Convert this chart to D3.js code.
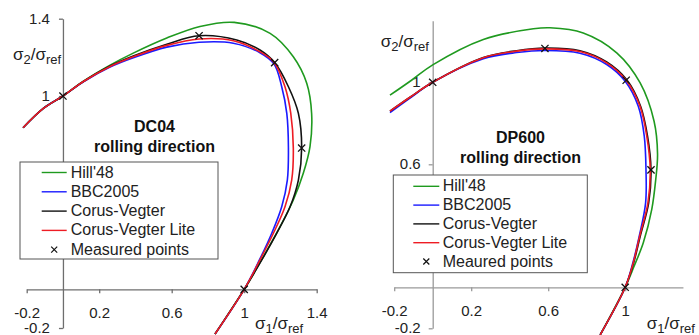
<!DOCTYPE html>
<html>
<head>
<meta charset="utf-8">
<script src="https://cdn.jsdelivr.net/npm/d3@7"></script>
<style>
  html, body { margin: 0; padding: 0; background: #fff; }
  svg { display: block; }
</style>
</head>
<body>
<svg id="chart" width="699" height="335"></svg>
<script>
// ---- Yield loci, normalised stresses [sigma1/sigma_ref, sigma2/sigma_ref] ----

// DC04, rolling direction
const dc04Hill48 = [[-0.22,0.836],[-0.108,0.936],[0,1],[0.113,1.077],[0.26,1.16],[0.388,1.222],[0.573,1.3],[0.756,1.36],[0.945,1.381],[1.143,1.324],[1.271,1.203],[1.345,1.066],[1.372,0.91],[1.363,0.738],[1.326,0.6],[1.271,0.462],[1.198,0.324],[1.106,0.169],[1,0],[0.839,-0.231]];
const dc04BBC2005 = [[-0.22,0.836],[-0.108,0.936],[0,1],[0.113,1.074],[0.26,1.15],[0.388,1.198],[0.573,1.253],[0.751,1.278],[0.94,1.273],[1.087,1.224],[1.165,1.165],[1.207,1.048],[1.235,0.91],[1.244,0.731],[1.238,0.565],[1.207,0.427],[1.152,0.29],[1.084,0.152],[1,0],[0.839,-0.231]];
const dc04CorusVegter = [[-0.22,0.836],[-0.108,0.936],[0,1],[0.113,1.075],[0.26,1.155],[0.388,1.207],[0.573,1.268],[0.751,1.312],[0.959,1.29],[1.087,1.238],[1.168,1.173],[1.244,1.048],[1.299,0.91],[1.317,0.731],[1.299,0.565],[1.253,0.427],[1.179,0.29],[1.097,0.152],[1,0],[0.839,-0.231]];
const dc04CorusVegterLite = [[-0.22,0.836],[-0.108,0.936],[0,1],[0.113,1.075],[0.26,1.153],[0.388,1.203],[0.573,1.262],[0.751,1.295],[0.94,1.286],[1.087,1.229],[1.165,1.174],[1.225,1.048],[1.257,0.91],[1.271,0.731],[1.262,0.565],[1.225,0.427],[1.161,0.29],[1.087,0.152],[1,0],[0.839,-0.231]];
const dc04Measured = [[0,1],[0.751,1.312],[1.168,1.173],[1.317,0.731],[1,0]];

// DP600, rolling direction
const dp600Hill48 = [[-0.222,0.937],[-0.11,1.01],[0,1.085],[0.263,1.209],[0.523,1.261],[0.609,1.266],[0.782,1.241],[0.956,1.144],[1.077,0.998],[1.15,0.81],[1.168,0.65],[1.158,0.52],[1.138,0.38],[1.094,0.217],[1.045,0.1],[1,0],[0.87,-0.232]];
const dp600BBC2005 = [[-0.222,0.852],[-0.118,0.923],[0,1],[0.263,1.115],[0.436,1.145],[0.583,1.155],[0.765,1.142],[0.904,1.087],[1,1.005],[1.068,0.883],[1.099,0.737],[1.108,0.573],[1.106,0.412],[1.073,0.249],[1.04,0.12],[1,0],[0.87,-0.232]];
const dp600CorusVegter = [[-0.222,0.859],[-0.118,0.927],[0,1],[0.263,1.121],[0.436,1.154],[0.583,1.167],[0.765,1.154],[0.904,1.099],[1.008,1.012],[1.08,0.883],[1.116,0.737],[1.134,0.573],[1.122,0.412],[1.078,0.249],[1.044,0.12],[1,0],[0.87,-0.232]];
const dp600CorusVegterLite = [[-0.222,0.859],[-0.118,0.927],[0,1],[0.263,1.12],[0.436,1.152],[0.583,1.163],[0.765,1.15],[0.904,1.095],[1.005,1.01],[1.077,0.883],[1.112,0.737],[1.13,0.573],[1.118,0.412],[1.075,0.249],[1.042,0.12],[1,0],[0.87,-0.232]];
const dp600Measured = [[0,1],[0.583,1.165],[1.005,1.01],[1.134,0.573],[1,0]];

// Axis ticks
const dc04Ticks = [-0.2, 0.2, 0.6, 1, 1.4];
const dp600Ticks = [-0.2, 0.2, 0.6, 1];

// Legend
const modelNames = ["Hill'48", "BBC2005", "Corus-Vegter", "Corus-Vegter Lite"];
const modelColors = ["#1f9a1f", "#1a1aff", "#111111", "#ee1c24"];
const dc04PointsLabel = "Measured points";
const dp600PointsLabel = "Meaured points";

const FONT = "'Liberation Sans', Arial, Helvetica, sans-serif";
const svg = d3.select("#chart");

function drawPanel(p) {
  const g = svg.append("g");
  const x = d3.scaleLinear().domain(p.xDomain).range(p.xRange);
  const y = d3.scaleLinear().domain(p.yDomain).range(p.yRange);
  const fmt = d => d3.format("~g")(d).replace("−", "-");

  // axes crossing at the origin
  const xAxis = d3.axisBottom(x).tickValues(p.ticks).tickSize(4).tickSizeOuter(0)
    .tickPadding(p.xPad).tickFormat(fmt);
  const yAxis = d3.axisLeft(y).tickValues(p.ticks).tickSize(4).tickSizeOuter(0)
    .tickPadding(p.yPad).tickFormat(fmt);

  const gx = g.append("g").attr("transform", `translate(0,${y(0)})`).call(xAxis);
  const gy = g.append("g").attr("transform", `translate(${x(0)},0)`).call(yAxis);
  [gx, gy].forEach(a => {
    a.selectAll("path, line").attr("stroke", p.axisColor).attr("stroke-width", 1.3);
    a.selectAll("text").attr("font-family", FONT).attr("font-size", 15).attr("fill", "#222");
  });
  gy.selectAll("text").attr("dy", "0.3em");

  // yield loci
  const line = d3.line().x(d => x(d[0])).y(d => y(d[1])).curve(d3.curveCatmullRom.alpha(0.5));
  p.series.forEach((s, i) => {
    g.append("path").datum(s).attr("d", line)
      .attr("fill", "none").attr("stroke", modelColors[i]).attr("stroke-width", 1.6);
  });

  // measured points
  const cross = (cx, cy, r) => `M${cx - r},${cy - r}L${cx + r},${cy + r}M${cx - r},${cy + r}L${cx + r},${cy - r}`;
  g.selectAll(".pt").data(p.measured).enter().append("path")
    .attr("d", d => cross(x(d[0]), y(d[1]), 3.6))
    .attr("stroke", "#111").attr("stroke-width", 1.3).attr("fill", "none");

  // title
  const t = g.append("text").attr("font-family", FONT).attr("font-weight", "bold")
    .attr("font-size", 16).attr("text-anchor", "middle").attr("fill", "#111");
  t.append("tspan").attr("x", p.titleX).attr("y", p.titleY).text(p.title);
  t.append("tspan").attr("x", p.titleX).attr("y", p.titleY + 20).text("rolling direction");

  // axis titles
  const axisTitle = (tx, ty, num) => {
    const a = g.append("text").attr("x", tx).attr("y", ty).attr("font-family", FONT)
      .attr("font-size", 17).attr("fill", "#222");
    a.append("tspan").text("σ");
    a.append("tspan").attr("font-size", 13).attr("dy", 4).text(num);
    a.append("tspan").attr("dy", -4).text("/σ");
    a.append("tspan").attr("font-size", 13).attr("dy", 4).text("ref");
  };
  axisTitle(p.yLabel[0], p.yLabel[1], "2");
  axisTitle(p.xLabel[0], p.xLabel[1], "1");

  // legend
  const L = p.legend;
  const lg = g.append("g");
  lg.append("rect").attr("x", L.x).attr("y", L.y).attr("width", L.w).attr("height", L.h)
    .attr("fill", "#fff").attr("stroke", "#555").attr("stroke-width", 1);
  const labels = modelNames.concat([p.pointsLabel]);
  labels.forEach((name, i) => {
    const by = L.base + i * L.step;
    if (i < modelNames.length) {
      lg.append("line").attr("x1", L.lx0).attr("x2", L.lx1).attr("y1", by - 5).attr("y2", by - 5)
        .attr("stroke", modelColors[i]).attr("stroke-width", 1.4);
    } else {
      const cx = (L.lx0 + L.lx1) / 2;
      lg.append("path").attr("d", cross(cx, by - 5, 3)).attr("stroke", "#111")
        .attr("stroke-width", 1.2).attr("fill", "none");
    }
    lg.append("text").attr("x", L.tx).attr("y", by).attr("font-family", FONT)
      .attr("font-size", 16).attr("fill", "#222").text(name);
  });
}

drawPanel({
  xDomain: [-0.2, 1.4], xRange: [26.7, 316.7],
  yDomain: [-0.2, 1.4], yRange: [328, 18.7],
  ticks: dc04Ticks, xPad: 14, yPad: 9, axisColor: "#6e6e6e",
  series: [dc04Hill48, dc04BBC2005, dc04CorusVegter, dc04CorusVegterLite],
  measured: dc04Measured,
  title: "DC04", titleX: 154.5, titleY: 131.7,
  yLabel: [13, 59.5], xLabel: [255, 329],
  pointsLabel: dc04PointsLabel,
  legend: { x: 20, y: 162, w: 198, h: 97, lx0: 41.7, lx1: 66.7, tx: 70.7, base: 177.5, step: 19.3 }
});

drawPanel({
  xDomain: [-0.2, 1.3], xRange: [394.2, 682.95],
  yDomain: [-0.2, 1.3], yRange: [328.3, 20.8],
  ticks: dp600Ticks, xPad: 14, yPad: 8, axisColor: "#9a9a9a",
  series: [dp600Hill48, dp600BBC2005, dp600CorusVegter, dp600CorusVegterLite],
  measured: dp600Measured,
  title: "DP600", titleX: 520.5, titleY: 142.7,
  yLabel: [380.7, 46.5], xLabel: [646.7, 329],
  pointsLabel: dp600PointsLabel,
  legend: { x: 393.3, y: 175, w: 194, h: 97.7, lx0: 413.3, lx1: 439.3, tx: 442.7, base: 191.3, step: 18.8 }
});
</script>
</body>
</html>
